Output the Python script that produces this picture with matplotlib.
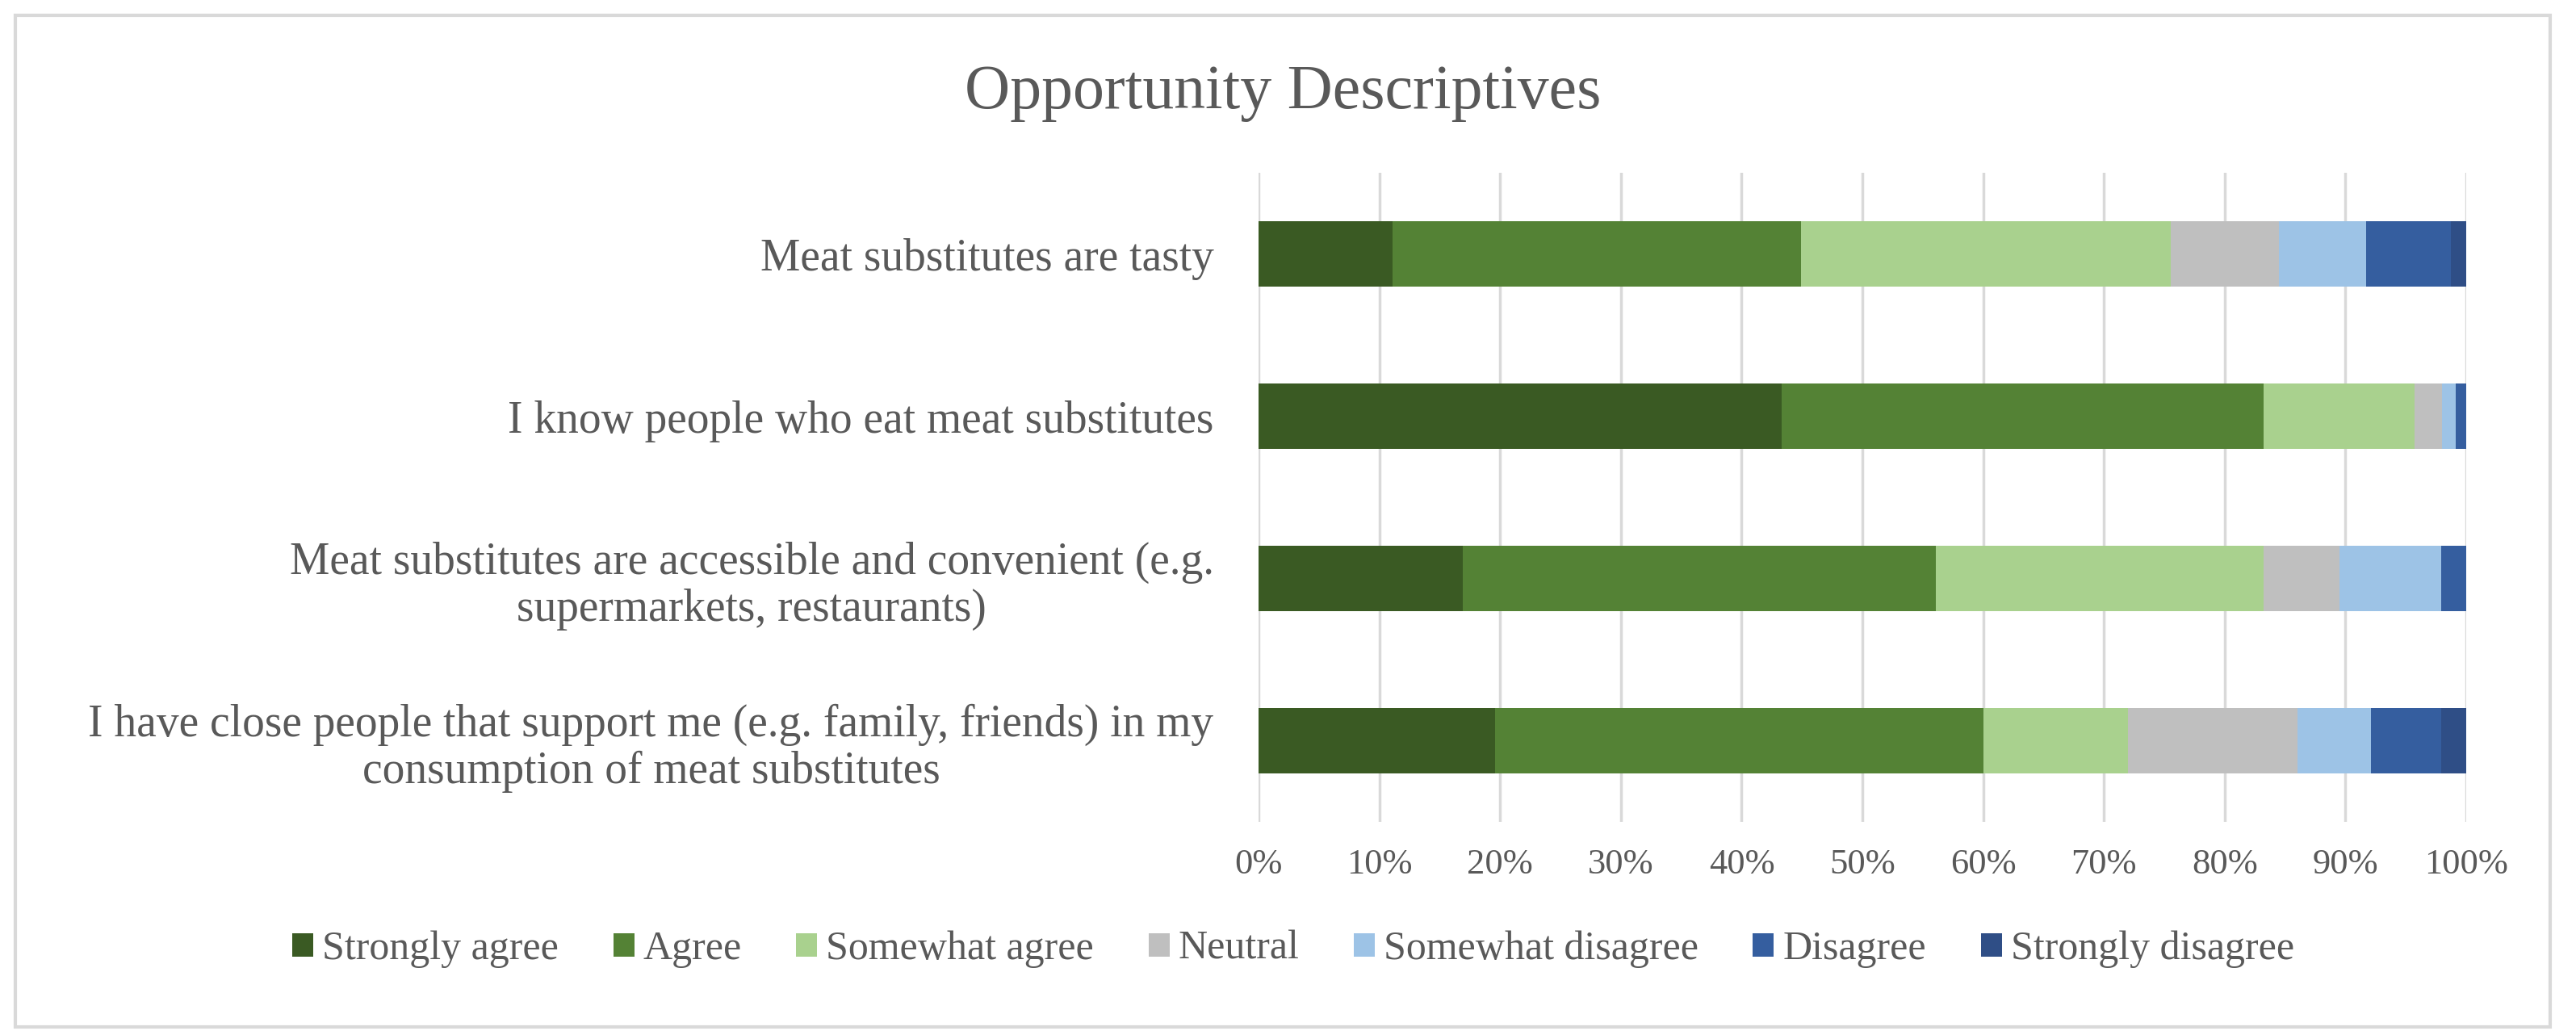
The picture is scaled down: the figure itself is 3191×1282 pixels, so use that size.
import matplotlib
matplotlib.use("Agg")
import matplotlib.pyplot as plt
from matplotlib.patches import Rectangle
import numpy as np

statements = [
    "Meat substitutes are tasty",
    "I know people who eat meat substitutes",
    "Meat substitutes are accessible and convenient (e.g.\nsupermarkets, restaurants)",
    "I have close people that support me (e.g. family, friends) in my\nconsumption of meat substitutes",
]
responses = ["Strongly agree", "Agree", "Somewhat agree", "Neutral",
             "Somewhat disagree", "Disagree", "Strongly disagree"]

# percentages per statement, one list per response level
strongly_agree = [11.1, 43.3, 16.9, 19.6]
agree = [33.8, 39.9, 39.2, 40.4]
somewhat_agree = [30.6, 12.5, 27.1, 12.0]
neutral = [9.0, 2.3, 6.3, 14.0]
somewhat_disagree = [7.2, 1.1, 8.4, 6.1]
disagree = [7.0, 0.9, 2.1, 5.8]
strongly_disagree = [1.3, 0.0, 0.0, 2.1]

colors = ["#3a5a23", "#548235", "#a9d18e", "#bfbfbf", "#9dc3e6", "#355e9f", "#2f4e86"]
text_col = "#595959"

plt.rcParams['font.family'] = ['Liberation Serif', 'DejaVu Serif']

fig = plt.figure(figsize=(31.91, 12.82), dpi=100)
ax = fig.add_axes([0.4886, 0.2059, 0.4688, 0.6271])

series = [strongly_agree, agree, somewhat_agree, neutral,
          somewhat_disagree, disagree, strongly_disagree]
y = np.arange(len(statements))
left = np.zeros(len(statements))
for vals, name, c in zip(series, responses, colors):
    vals = np.array(vals)
    ax.barh(y, vals, left=left, height=0.4, color=c, label=name)
    left += vals

ax.set_ylim(len(statements) - 0.5, -0.5)
ax.set_xlim(0, 100)
ax.set_xticks(range(0, 101, 10))
ax.set_xticklabels([f"{v}%" for v in range(0, 101, 10)])
ax.set_yticks(y)
ax.set_yticklabels(statements, ha="right")
ax.tick_params(axis="x", length=0, labelsize=32, labelcolor=text_col, pad=24)
ax.tick_params(axis="y", length=0, labelsize=40, labelcolor=text_col, pad=40)
for lbl in ax.get_yticklabels():
    lbl.set_multialignment("center")
    lbl.set_linespacing(1.15)
ax.xaxis.grid(True, color="#d9d9d9", linewidth=2.5)
ax.set_axisbelow(True)
for s in ax.spines.values():
    s.set_visible(False)

fig.text(0.498, 0.8955, "Opportunity Descriptives", ha="center", va="baseline",
         fontsize=56, color=text_col)

leg = fig.legend(loc="center", bbox_to_anchor=(0.502, 0.083), ncol=7, frameon=False,
                 fontsize=36, handlelength=0.52, handleheight=0.52, handletextpad=0.22,
                 columnspacing=1.35)
for t in leg.get_texts():
    t.set_color(text_col)

fig.patches.append(Rectangle((0.006, 0.008), 0.984, 0.977, transform=fig.transFigure,
                             fill=False, edgecolor="#d9d9d9", linewidth=3))

fig.savefig("out.png", dpi=100, facecolor="white")
